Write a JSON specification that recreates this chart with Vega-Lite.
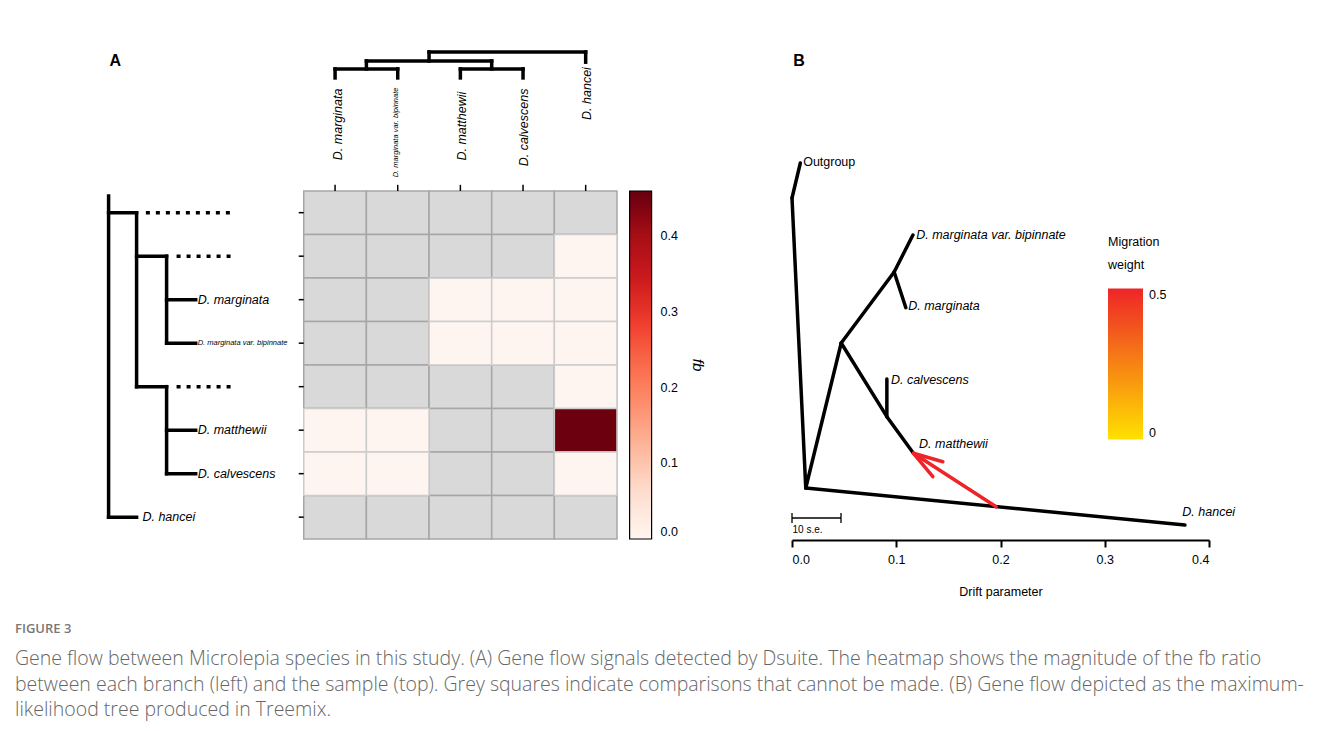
{
  "$schema": "https://vega.github.io/schema/vega-lite/v6.json",
  "background": "white",
  "padding": {"left": 15, "top": 40, "right": 5, "bottom": 5},
  "bounds": "flush",
  "spacing": 175,
  "title": {
    "text": "FIGURE 3",
    "subtitle": [
      "Gene flow between Microlepia species in this study. (A) Gene flow signals detected by Dsuite. The heatmap shows the magnitude of the fb ratio",
      "between each branch (left) and the sample (top). Grey squares indicate comparisons that cannot be made. (B) Gene flow depicted as the maximum-",
      "likelihood tree produced in Treemix."
    ],
    "orient": "bottom", "anchor": "start", "dx": -82, "offset": 25,
    "font": "Open Sans", "fontSize": 13, "fontWeight": 600, "color": "#777777",
    "subtitleFont": "Open Sans", "subtitleFontSize": 19.5, "subtitleFontWeight": 300, "subtitleColor": "#666666",
    "subtitleLineHeight": 25.5, "subtitlePadding": 14
  },
  "datasets": {
    "cells": [
      {"branch": "node1", "sample": "D. marginata", "x": 0, "y": 0, "fb": null},
      {"branch": "node1", "sample": "D. marginata var. bipinnate", "x": 1, "y": 0, "fb": null},
      {"branch": "node1", "sample": "D. matthewii", "x": 2, "y": 0, "fb": null},
      {"branch": "node1", "sample": "D. calvescens", "x": 3, "y": 0, "fb": null},
      {"branch": "node1", "sample": "D. hancei", "x": 4, "y": 0, "fb": null},
      {"branch": "node2", "sample": "D. marginata", "x": 0, "y": 1, "fb": null},
      {"branch": "node2", "sample": "D. marginata var. bipinnate", "x": 1, "y": 1, "fb": null},
      {"branch": "node2", "sample": "D. matthewii", "x": 2, "y": 1, "fb": null},
      {"branch": "node2", "sample": "D. calvescens", "x": 3, "y": 1, "fb": null},
      {"branch": "node2", "sample": "D. hancei", "x": 4, "y": 1, "fb": 0},
      {"branch": "D. marginata", "sample": "D. marginata", "x": 0, "y": 2, "fb": null},
      {"branch": "D. marginata", "sample": "D. marginata var. bipinnate", "x": 1, "y": 2, "fb": null},
      {"branch": "D. marginata", "sample": "D. matthewii", "x": 2, "y": 2, "fb": 0},
      {"branch": "D. marginata", "sample": "D. calvescens", "x": 3, "y": 2, "fb": 0},
      {"branch": "D. marginata", "sample": "D. hancei", "x": 4, "y": 2, "fb": 0},
      {"branch": "D. marginata var. bipinnate", "sample": "D. marginata", "x": 0, "y": 3, "fb": null},
      {"branch": "D. marginata var. bipinnate", "sample": "D. marginata var. bipinnate", "x": 1, "y": 3, "fb": null},
      {"branch": "D. marginata var. bipinnate", "sample": "D. matthewii", "x": 2, "y": 3, "fb": 0},
      {"branch": "D. marginata var. bipinnate", "sample": "D. calvescens", "x": 3, "y": 3, "fb": 0},
      {"branch": "D. marginata var. bipinnate", "sample": "D. hancei", "x": 4, "y": 3, "fb": 0},
      {"branch": "node3", "sample": "D. marginata", "x": 0, "y": 4, "fb": null},
      {"branch": "node3", "sample": "D. marginata var. bipinnate", "x": 1, "y": 4, "fb": null},
      {"branch": "node3", "sample": "D. matthewii", "x": 2, "y": 4, "fb": null},
      {"branch": "node3", "sample": "D. calvescens", "x": 3, "y": 4, "fb": null},
      {"branch": "node3", "sample": "D. hancei", "x": 4, "y": 4, "fb": 0},
      {"branch": "D. matthewii", "sample": "D. marginata", "x": 0, "y": 5, "fb": 0},
      {"branch": "D. matthewii", "sample": "D. marginata var. bipinnate", "x": 1, "y": 5, "fb": 0},
      {"branch": "D. matthewii", "sample": "D. matthewii", "x": 2, "y": 5, "fb": null},
      {"branch": "D. matthewii", "sample": "D. calvescens", "x": 3, "y": 5, "fb": null},
      {"branch": "D. matthewii", "sample": "D. hancei", "x": 4, "y": 5, "fb": 0.455},
      {"branch": "D. calvescens", "sample": "D. marginata", "x": 0, "y": 6, "fb": 0},
      {"branch": "D. calvescens", "sample": "D. marginata var. bipinnate", "x": 1, "y": 6, "fb": 0},
      {"branch": "D. calvescens", "sample": "D. matthewii", "x": 2, "y": 6, "fb": null},
      {"branch": "D. calvescens", "sample": "D. calvescens", "x": 3, "y": 6, "fb": null},
      {"branch": "D. calvescens", "sample": "D. hancei", "x": 4, "y": 6, "fb": 0},
      {"branch": "D. hancei", "sample": "D. marginata", "x": 0, "y": 7, "fb": null},
      {"branch": "D. hancei", "sample": "D. marginata var. bipinnate", "x": 1, "y": 7, "fb": null},
      {"branch": "D. hancei", "sample": "D. matthewii", "x": 2, "y": 7, "fb": null},
      {"branch": "D. hancei", "sample": "D. calvescens", "x": 3, "y": 7, "fb": null},
      {"branch": "D. hancei", "sample": "D. hancei", "x": 4, "y": 7, "fb": null}
    ],
    "treeA": [
      {"kind": "branch", "x": -3.615, "y": -0.385, "x2": -3.615, "y2": 7},
      {"kind": "branch", "x": -3.615, "y": 0, "x2": -3.168, "y2": 0},
      {"kind": "branch", "x": -3.168, "y": 0, "x2": -3.168, "y2": 4},
      {"kind": "branch", "x": -3.615, "y": 7, "x2": -3.168, "y2": 7},
      {"kind": "branch", "x": -3.168, "y": 1, "x2": -2.689, "y2": 1},
      {"kind": "branch", "x": -2.689, "y": 1, "x2": -2.689, "y2": 3},
      {"kind": "branch", "x": -2.689, "y": 2, "x2": -2.225, "y2": 2},
      {"kind": "branch", "x": -2.689, "y": 3, "x2": -2.225, "y2": 3},
      {"kind": "branch", "x": -3.168, "y": 4, "x2": -2.689, "y2": 4},
      {"kind": "branch", "x": -2.689, "y": 4, "x2": -2.689, "y2": 6},
      {"kind": "branch", "x": -2.689, "y": 5, "x2": -2.225, "y2": 5},
      {"kind": "branch", "x": -2.689, "y": 6, "x2": -2.225, "y2": 6},
      {"kind": "branch", "x": 0, "y": -3.098, "x2": 0, "y2": -3.305},
      {"kind": "branch", "x": 1, "y": -3.098, "x2": 1, "y2": -3.305},
      {"kind": "branch", "x": 0, "y": -3.305, "x2": 1, "y2": -3.305},
      {"kind": "branch", "x": 0.5, "y": -3.305, "x2": 0.5, "y2": -3.489},
      {"kind": "branch", "x": 2, "y": -3.098, "x2": 2, "y2": -3.305},
      {"kind": "branch", "x": 3, "y": -3.098, "x2": 3, "y2": -3.305},
      {"kind": "branch", "x": 2, "y": -3.305, "x2": 3, "y2": -3.305},
      {"kind": "branch", "x": 2.5, "y": -3.305, "x2": 2.5, "y2": -3.489},
      {"kind": "branch", "x": 0.5, "y": -3.489, "x2": 2.5, "y2": -3.489},
      {"kind": "branch", "x": 1.5, "y": -3.489, "x2": 1.5, "y2": -3.695},
      {"kind": "branch", "x": 1.5, "y": -3.695, "x2": 4, "y2": -3.695},
      {"kind": "branch", "x": 4, "y": -3.695, "x2": 4, "y2": -3.46},
      {"kind": "internal", "x": -3.02, "y": 0, "x2": -1.62, "y2": 0},
      {"kind": "internal", "x": -2.53, "y": 1, "x2": -1.62, "y2": 1},
      {"kind": "internal", "x": -2.53, "y": 4, "x2": -1.62, "y2": 4},
      {"kind": "tick", "x": -0.58, "y": 0, "x2": -0.5, "y2": 0},
      {"kind": "tick", "x": -0.58, "y": 1, "x2": -0.5, "y2": 1},
      {"kind": "tick", "x": -0.58, "y": 2, "x2": -0.5, "y2": 2},
      {"kind": "tick", "x": -0.58, "y": 3, "x2": -0.5, "y2": 3},
      {"kind": "tick", "x": -0.58, "y": 4, "x2": -0.5, "y2": 4},
      {"kind": "tick", "x": -0.58, "y": 5, "x2": -0.5, "y2": 5},
      {"kind": "tick", "x": -0.58, "y": 6, "x2": -0.5, "y2": 6},
      {"kind": "tick", "x": -0.58, "y": 7, "x2": -0.5, "y2": 7},
      {"kind": "tick", "x": 0, "y": -0.64, "x2": 0, "y2": -0.5},
      {"kind": "tick", "x": 1, "y": -0.64, "x2": 1, "y2": -0.5},
      {"kind": "tick", "x": 2, "y": -0.64, "x2": 2, "y2": -0.5},
      {"kind": "tick", "x": 3, "y": -0.64, "x2": 3, "y2": -0.5},
      {"kind": "tick", "x": 4, "y": -0.64, "x2": 4, "y2": -0.5}
    ],
    "labelsA": [
      {"side": "left", "name": "D. marginata", "x": -2.193, "y": 2},
      {"side": "left", "name": "D. marginata var. bipinnate", "x": -2.193, "y": 3},
      {"side": "left", "name": "D. matthewii", "x": -2.193, "y": 5},
      {"side": "left", "name": "D. calvescens", "x": -2.193, "y": 6},
      {"side": "left", "name": "D. hancei", "x": -3.075, "y": 7},
      {"side": "top", "name": "D. marginata", "x": 0.04, "y": -2.03},
      {"side": "top", "name": "D. marginata var. bipinnate", "x": 0.98, "y": -1.845},
      {"side": "top", "name": "D. matthewii", "x": 2.03, "y": -1.99},
      {"side": "top", "name": "D. calvescens", "x": 3.02, "y": -1.96},
      {"side": "top", "name": "D. hancei", "x": 4.02, "y": -2.74},
      {"side": "panel", "name": "A", "x": -3.6, "y": -3.49}
    ],
    "treeB": [
      {"x": 0.008, "y": 0.754, "x2": 0.0, "y2": 0.684},
      {"x": 0.0, "y": 0.684, "x2": 0.0132, "y2": 0.104},
      {"x": 0.0132, "y": 0.104, "x2": 0.0472, "y2": 0.394},
      {"x": 0.0472, "y": 0.394, "x2": 0.098, "y2": 0.536},
      {"x": 0.098, "y": 0.536, "x2": 0.116, "y2": 0.61},
      {"x": 0.098, "y": 0.536, "x2": 0.1092, "y2": 0.4646},
      {"x": 0.0472, "y": 0.394, "x2": 0.091, "y2": 0.2466},
      {"x": 0.091, "y": 0.2466, "x2": 0.1165, "y2": 0.1734},
      {"x": 0.091, "y": 0.2466, "x2": 0.091, "y2": 0.322},
      {"x": 0.0132, "y": 0.104, "x2": 0.3769, "y2": 0.03}
    ],
    "migration": [
      {"x": 0.1958, "y": 0.0666, "x2": 0.1165, "y2": 0.1734, "weight": 0.5},
      {"x": 0.1165, "y": 0.1734, "x2": 0.1447, "y2": 0.1566, "weight": 0.5},
      {"x": 0.1165, "y": 0.1734, "x2": 0.1351, "y2": 0.1266, "weight": 0.5}
    ],
    "scalebar": [
      {"x": 0.0, "y": 0.044, "x2": 0.047, "y2": 0.044},
      {"x": 0.0, "y": 0.034, "x2": 0.0, "y2": 0.054},
      {"x": 0.047, "y": 0.034, "x2": 0.047, "y2": 0.054}
    ],
    "labelsB": [
      {"kind": "outgroup", "name": "Outgroup", "x": 0.0107, "y": 0.756},
      {"kind": "taxon", "name": "D. marginata var. bipinnate", "x": 0.1191, "y": 0.61},
      {"kind": "taxon", "name": "D. marginata", "x": 0.1115, "y": 0.468},
      {"kind": "taxon", "name": "D. calvescens", "x": 0.0949, "y": 0.32},
      {"kind": "taxon", "name": "D. matthewii", "x": 0.1219, "y": 0.192},
      {"kind": "taxon", "name": "D. hancei", "x": 0.3744, "y": 0.056},
      {"kind": "scale", "name": "10 s.e.", "x": 0.0005, "y": 0.02},
      {"kind": "panel", "name": "B", "x": 0.0013, "y": 0.958}
    ]
  },
  "resolve": {"scale": {"color": "independent"}, "legend": {"color": "independent"}},
  "hconcat": [
    {
      "width": 520,
      "height": 505,
      "encoding": {
        "x": {"field": "x", "type": "quantitative", "scale": {"domain": [-3.8, 4.5], "nice": false, "zero": false}, "axis": null},
        "y": {"field": "y", "type": "quantitative", "scale": {"domain": [-3.97, 7.64], "nice": false, "zero": false, "reverse": true}, "axis": null}
      },
      "layer": [
        {
          "data": {"name": "cells"},
          "mark": {"type": "rect", "width": 62.65, "height": 43.5, "fill": "#d9d9d9", "stroke": "#a6a6a6", "strokeWidth": 1.5}
        },
        {
          "data": {"name": "cells"},
          "transform": [{"filter": "isValid(datum.fb)"}],
          "mark": {"type": "rect", "width": 62.65, "height": 43.5, "stroke": "#cccccc", "strokeWidth": 1.5},
          "encoding": {
            "color": {
              "field": "fb", "type": "quantitative",
              "scale": {"domain": [0, 0.46], "range": ["#fff5f0", "#fee0d2", "#fcbba1", "#fc9272", "#fb6a4a", "#ef3b2c", "#cb181d", "#a50f15", "#67000d"]},
              "legend": {
                "orient": "none", "legendX": 532.6, "legendY": 151, "direction": "vertical",
                "gradientLength": 348, "gradientThickness": 22,
                "gradientStrokeColor": "black", "gradientStrokeWidth": 1.2,
                "values": [0, 0.1, 0.2, 0.3, 0.4], "format": ".1f",
                "labelFontSize": 12.5, "labelColor": "black", "labelOffset": 9, "labelBaseline": "middle", "labelFont": "Liberation Sans",
                "title": "fb", "titleOrient": "right", "titleAngle": 270, "titleFontSize": 15,
                "titleFontStyle": "italic", "titleFontWeight": "normal", "titleColor": "black",
                "titleAnchor": "middle", "titlePadding": 12, "titleFont": "Liberation Sans", "padding": 0
              }
            }
          }
        },
        {
          "data": {"values": [{}]},
          "mark": {"type": "rect", "filled": false, "stroke": "black", "strokeWidth": 2},
          "encoding": {
            "x": {"datum": -0.5}, "x2": {"datum": 4.5},
            "y": {"datum": -0.5}, "y2": {"datum": 7.5}
          }
        },
        {
          "data": {"name": "treeA"},
          "transform": [{"filter": "datum.kind == 'branch'"}],
          "mark": {"type": "rule", "strokeWidth": 3.5, "strokeCap": "square", "color": "black"},
          "encoding": {"x2": {"field": "x2"}, "y2": {"field": "y2"}}
        },
        {
          "data": {"name": "treeA"},
          "transform": [{"filter": "datum.kind == 'internal'"}],
          "mark": {"type": "rule", "strokeWidth": 3.5, "strokeDash": [4, 6], "color": "black"},
          "encoding": {"x2": {"field": "x2"}, "y2": {"field": "y2"}}
        },
        {
          "data": {"name": "treeA"},
          "transform": [{"filter": "datum.kind == 'tick'"}],
          "mark": {"type": "rule", "strokeWidth": 1.5, "color": "black"},
          "encoding": {"x2": {"field": "x2"}, "y2": {"field": "y2"}}
        },
        {
          "data": {"name": "labelsA"},
          "transform": [{"filter": "datum.side == 'left'"}],
          "mark": {"type": "text", "align": "left", "baseline": "middle", "fontStyle": "italic", "font": "Liberation Sans", "color": "black"},
          "encoding": {
            "text": {"field": "name"},
            "size": {"condition": {"test": "indexof(datum.name, 'var.') >= 0", "value": 7.5}, "value": 12.5}
          }
        },
        {
          "data": {"name": "labelsA"},
          "transform": [{"filter": "datum.side == 'top'"}],
          "mark": {"type": "text", "align": "center", "baseline": "middle", "angle": 270, "fontStyle": "italic", "font": "Liberation Sans", "color": "black"},
          "encoding": {
            "text": {"field": "name"},
            "size": {"condition": {"test": "indexof(datum.name, 'var.') >= 0", "value": 7.5}, "value": 12.5}
          }
        },
        {
          "data": {"name": "labelsA"},
          "transform": [{"filter": "datum.side == 'panel'"}],
          "mark": {"type": "text", "align": "left", "baseline": "middle", "fontWeight": "bold", "fontSize": 16, "font": "Liberation Sans", "color": "black"},
          "encoding": {"text": {"field": "name"}}
        }
      ]
    },
    {
      "width": 417,
      "height": 500,
      "encoding": {
        "x": {
          "field": "x", "type": "quantitative",
          "scale": {"domain": [0, 0.4], "nice": false, "zero": false},
          "axis": {
            "title": "Drift parameter", "values": [0, 0.1, 0.2, 0.3, 0.4], "format": ".1f", "grid": false,
            "domainColor": "black", "domainWidth": 2, "tickColor": "black", "tickWidth": 2, "tickSize": 7,
            "labelFontSize": 12.5, "labelColor": "black", "labelPadding": 6, "labelFont": "Liberation Sans",
            "titleFontSize": 12.5, "titleFontWeight": "normal", "titleColor": "black", "titlePadding": 20, "titleFont": "Liberation Sans"
          }
        },
        "y": {"field": "y", "type": "quantitative", "scale": {"domain": [0, 1], "nice": false, "zero": false}, "axis": null}
      },
      "layer": [
        {
          "data": {"name": "treeB"},
          "mark": {"type": "rule", "strokeWidth": 3.5, "strokeCap": "round", "color": "black"},
          "encoding": {"x2": {"field": "x2"}, "y2": {"field": "y2"}}
        },
        {
          "data": {"name": "migration"},
          "mark": {"type": "rule", "strokeWidth": 3.5, "strokeCap": "round"},
          "encoding": {
            "x2": {"field": "x2"}, "y2": {"field": "y2"},
            "color": {
              "field": "weight", "type": "quantitative",
              "scale": {"domain": [0, 0.5], "range": ["#ffe100", "#ee2428"], "interpolate": "rgb"},
              "legend": {
                "orient": "none", "legendX": 316, "legendY": 196, "direction": "vertical",
                "gradientLength": 151, "gradientThickness": 35, "gradientStrokeWidth": 0,
                "values": [0, 0.5], "format": "~g",
                "labelFontSize": 12.5, "labelColor": "black", "labelOffset": 6, "labelBaseline": "middle", "labelFont": "Liberation Sans",
                "title": ["Migration", "weight"], "titleFontSize": 12.5, "titleFontWeight": "normal", "titleColor": "black",
                "titleLineHeight": 23, "titlePadding": 17, "titleFont": "Liberation Sans", "padding": 0
              }
            }
          }
        },
        {
          "data": {"name": "scalebar"},
          "mark": {"type": "rule", "strokeWidth": 1.3, "color": "black"},
          "encoding": {"x2": {"field": "x2"}, "y2": {"field": "y2"}}
        },
        {
          "data": {"name": "labelsB"},
          "transform": [{"filter": "datum.kind == 'taxon'"}],
          "mark": {"type": "text", "align": "left", "baseline": "middle", "fontStyle": "italic", "fontSize": 12.5, "font": "Liberation Sans", "color": "black"},
          "encoding": {"text": {"field": "name"}}
        },
        {
          "data": {"name": "labelsB"},
          "transform": [{"filter": "datum.kind == 'outgroup'"}],
          "mark": {"type": "text", "align": "left", "baseline": "middle", "fontSize": 12.5, "font": "Liberation Sans", "color": "black"},
          "encoding": {"text": {"field": "name"}}
        },
        {
          "data": {"name": "labelsB"},
          "transform": [{"filter": "datum.kind == 'scale'"}],
          "mark": {"type": "text", "align": "left", "baseline": "middle", "fontSize": 10, "font": "Liberation Sans", "color": "black"},
          "encoding": {"text": {"field": "name"}}
        },
        {
          "data": {"name": "labelsB"},
          "transform": [{"filter": "datum.kind == 'panel'"}],
          "mark": {"type": "text", "align": "left", "baseline": "middle", "fontWeight": "bold", "fontSize": 16, "font": "Liberation Sans", "color": "black"},
          "encoding": {"text": {"field": "name"}}
        }
      ]
    }
  ],
  "config": {"view": {"stroke": null}, "font": "Liberation Sans"}
}
